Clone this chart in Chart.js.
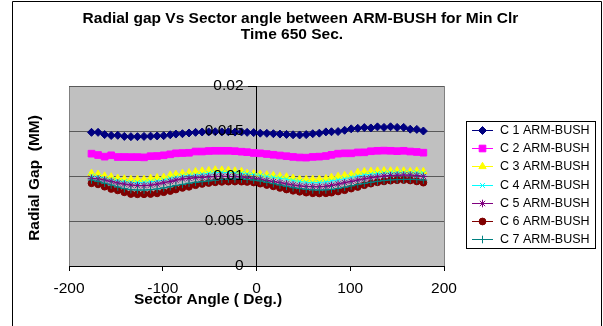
<!DOCTYPE html>
<html>
<head>
<meta charset="utf-8">
<script src="https://cdn.jsdelivr.net/npm/chart.js@4/dist/chart.umd.min.js"></script>
<style>
  html, body { margin: 0; padding: 0; background: #fff; }
  #wrap { width: 603px; height: 326px; position: relative; }
</style>
</head>
<body>
<div id="wrap"><canvas id="chart" width="603" height="326"></canvas></div>
<script>
// Sector angle (deg.) of each measurement point
const angles = [-176, -169, -162, -155, -148, -141, -134, -127, -120, -113, -106, -99, -92,
  -86, -79, -72, -65, -58, -51, -44, -37, -30, -23, -16, -10, -3,
  4, 11, 18, 25, 32, 39, 46, 53, 60, 67, 74,
  80, 87, 94, 101, 108, 115, 122, 129, 136, 143, 150, 157, 164, 171, 178];

// Radial gap (mm) per condition
const c1 = [0.01485, 0.01485, 0.01460, 0.01450, 0.01452, 0.01440, 0.01437, 0.01437, 0.01440, 0.01443, 0.01445, 0.01448, 0.01458,
  0.01466, 0.01470, 0.01478, 0.01485, 0.01489, 0.01490, 0.01492, 0.01490, 0.01492, 0.01488, 0.01490, 0.01485, 0.01482,
  0.01476, 0.01474, 0.01470, 0.01466, 0.01462, 0.01458, 0.01456, 0.01460, 0.01470, 0.01476, 0.01490,
  0.01492, 0.01494, 0.01508, 0.01524, 0.01530, 0.01538, 0.01534, 0.01546, 0.01540, 0.01547, 0.01540, 0.01540, 0.01520, 0.01518, 0.01500];
const c2 = [0.01248, 0.01233, 0.01215, 0.01230, 0.01211, 0.01211, 0.01210, 0.01210, 0.01207, 0.01220, 0.01222, 0.01230, 0.01241,
  0.01252, 0.01255, 0.01258, 0.01272, 0.01272, 0.01278, 0.01280, 0.01280, 0.01280, 0.01276, 0.01270, 0.01265, 0.01256,
  0.01252, 0.01244, 0.01236, 0.01228, 0.01220, 0.01212, 0.01206, 0.01204, 0.01212, 0.01215, 0.01222,
  0.01235, 0.01248, 0.01252, 0.01252, 0.01262, 0.01263, 0.01275, 0.01280, 0.01282, 0.01280, 0.01276, 0.01280, 0.01272, 0.01267, 0.01259];
const c3 = [0.01030, 0.01020, 0.01000, 0.00990, 0.00975, 0.00968, 0.00963, 0.00963, 0.00963, 0.00974, 0.00980, 0.00985, 0.01010,
  0.01018, 0.01030, 0.01037, 0.01048, 0.01055, 0.01060, 0.01067, 0.01065, 0.01062, 0.01055, 0.01050, 0.01030, 0.01025,
  0.01020, 0.01012, 0.01005, 0.00995, 0.00990, 0.00975, 0.00965, 0.00963, 0.00963, 0.00965, 0.00970,
  0.00985, 0.00995, 0.01005, 0.01015, 0.01040, 0.01048, 0.01052, 0.01056, 0.01058, 0.01056, 0.01058, 0.01056, 0.01050, 0.01055, 0.01050];
const c4 = [0.01000, 0.00990, 0.00974, 0.00960, 0.00948, 0.00938, 0.00930, 0.00928, 0.00930, 0.00936, 0.00944, 0.00955, 0.00974,
  0.00985, 0.01000, 0.01006, 0.01011, 0.01020, 0.01030, 0.01038, 0.01040, 0.01038, 0.01035, 0.01030, 0.01022, 0.01015,
  0.01005, 0.00995, 0.00985, 0.00975, 0.00965, 0.00950, 0.00940, 0.00930, 0.00926, 0.00928, 0.00935,
  0.00945, 0.00958, 0.00970, 0.00985, 0.01000, 0.01012, 0.01020, 0.01028, 0.01032, 0.01035, 0.01036, 0.01035, 0.01033, 0.01036, 0.01030];
const c5 = [0.00974, 0.00968, 0.00956, 0.00940, 0.00922, 0.00910, 0.00900, 0.00893, 0.00893, 0.00898, 0.00910, 0.00925, 0.00940,
  0.00955, 0.00968, 0.00975, 0.00980, 0.00985, 0.00990, 0.00995, 0.00996, 0.00995, 0.00993, 0.00990, 0.00984, 0.00975,
  0.00965, 0.00950, 0.00938, 0.00926, 0.00912, 0.00900, 0.00890, 0.00884, 0.00881, 0.00880, 0.00885,
  0.00895, 0.00910, 0.00925, 0.00940, 0.00955, 0.00968, 0.00980, 0.00990, 0.01000, 0.01005, 0.01008, 0.01010, 0.01010, 0.01005, 0.00995];
const c6 = [0.00919, 0.00907, 0.00881, 0.00856, 0.00840, 0.00819, 0.00800, 0.00797, 0.00797, 0.00800, 0.00807, 0.00820, 0.00833,
  0.00850, 0.00868, 0.00880, 0.00898, 0.00912, 0.00922, 0.00930, 0.00935, 0.00937, 0.00938, 0.00937, 0.00934, 0.00928,
  0.00915, 0.00900, 0.00885, 0.00868, 0.00850, 0.00836, 0.00825, 0.00815, 0.00808, 0.00806, 0.00808,
  0.00815, 0.00828, 0.00842, 0.00860, 0.00878, 0.00898, 0.00915, 0.00930, 0.00940, 0.00948, 0.00953, 0.00955, 0.00950, 0.00940, 0.00926];
const c7 = [0.00956, 0.00940, 0.00920, 0.00900, 0.00878, 0.00860, 0.00848, 0.00844, 0.00844, 0.00848, 0.00856, 0.00868, 0.00881,
  0.00895, 0.00907, 0.00920, 0.00930, 0.00937, 0.00945, 0.00955, 0.00962, 0.00966, 0.00967, 0.00966, 0.00962, 0.00955,
  0.00945, 0.00930, 0.00915, 0.00900, 0.00885, 0.00870, 0.00860, 0.00852, 0.00846, 0.00844, 0.00846,
  0.00852, 0.00862, 0.00875, 0.00890, 0.00905, 0.00918, 0.00930, 0.00940, 0.00950, 0.00956, 0.00960, 0.00962, 0.00963, 0.00960, 0.00955];

const seriesNames = ['C 1 ARM-BUSH', 'C 2 ARM-BUSH', 'C 3 ARM-BUSH', 'C 4 ARM-BUSH',
  'C 5 ARM-BUSH', 'C 6 ARM-BUSH', 'C 7 ARM-BUSH'];
const xTickLabels = ['-200', '-100', '0', '100', '200'];
const yTickLabels = ['0', '0.005', '0.01', '0.015', '0.02'];
const titleLines = ['Radial gap Vs Sector angle between ARM-BUSH for Min Clr', 'Time 650 Sec.'];
const xTitle = 'Sector Angle ( Deg.)';
const yTitle = 'Radial Gap  (MM)';

const seriesValues = [c1, c2, c3, c4, c5, c6, c7];

// Marker look for each series
const seriesStyle = [
  { color: '#000080', point: 'rectRot', r: 4 },
  { color: '#FF00FF', point: 'rect', r: 4.7 },
  { color: '#FFFF00', point: 'triangle', r: 4.2 },
  { color: '#00FFFF', point: 'crossRot', r: 3.5 },
  { color: '#800080', point: 'star', r: 3.8 },
  { color: '#800000', point: 'circle', r: 3.4 },
  { color: '#008080', point: 'cross', r: 3.8 }
];

const FONT = '"Liberation Sans", Arial, sans-serif';
const Y_LABEL_GAP = 13; // distance between the value axis line and its tick labels

const datasets = seriesValues.map((vals, i) => ({
  label: seriesNames[i],
  data: angles.map((a, k) => ({ x: a, y: vals[k] })),
  borderColor: seriesStyle[i].color,
  backgroundColor: seriesStyle[i].color,
  borderWidth: 1,
  pointStyle: seriesStyle[i].point,
  pointRadius: seriesStyle[i].r,
  pointBorderWidth: 1,
  pointBorderColor: seriesStyle[i].color,
  pointBackgroundColor: seriesStyle[i].color,
  showLine: true,
  tension: 0,
  order: seriesValues.length - i
}));

// Grey plot area with its border, outer frame; moves the y tick labels off the axis line
const plotBackground = {
  id: 'plotBackground',
  beforeDraw(chart) {
    const { ctx, chartArea: a } = chart;
    const yScale = chart.scales.y;
    const items = yScale.getLabelItems(a);
    if (!yScale._labelsShifted) {
      items.forEach(it => { it.options.translation[0] -= Y_LABEL_GAP; });
      yScale._labelsShifted = true;
    }
    ctx.save();
    ctx.fillStyle = '#fff';
    ctx.fillRect(0, 0, chart.width, chart.height);
    ctx.fillStyle = '#C0C0C0';
    ctx.fillRect(a.left, a.top, a.right - a.left, a.bottom - a.top);
    ctx.strokeStyle = '#808080';
    ctx.lineWidth = 1;
    ctx.strokeRect(Math.round(a.left) + 0.5, Math.round(a.top) + 0.5,
      Math.round(a.right - a.left), Math.round(a.bottom - a.top));
    ctx.strokeStyle = '#000';
    ctx.beginPath();
    ctx.moveTo(12.5, 400); ctx.lineTo(12.5, 1.5); ctx.lineTo(601.5, 1.5); ctx.lineTo(601.5, 400);
    ctx.stroke();
    ctx.restore();
  }
};

// Titles and the boxed legend
const annotations = {
  id: 'annotations',
  afterDraw(chart) {
    const { ctx } = chart;
    ctx.save();
    ctx.fillStyle = '#000';
    ctx.font = 'bold 15.5px ' + FONT;
    ctx.textAlign = 'center';
    ctx.textBaseline = 'alphabetic';
    ctx.fillText(titleLines[0], 300.5, 23);
    ctx.fillText(titleLines[1], 292, 38.5);

    ctx.fillText(xTitle, 208, 304);

    ctx.save();
    ctx.translate(39, 178);
    ctx.rotate(-Math.PI / 2);
    ctx.fillText(yTitle, 0, 0);
    ctx.restore();

    // legend
    const lx = 466.5, ly = 121.5, lw = 129, lh = 127;
    ctx.fillStyle = '#fff';
    ctx.fillRect(lx, ly, lw, lh);
    ctx.strokeStyle = '#000';
    ctx.lineWidth = 1;
    ctx.strokeRect(lx, ly, lw, lh);
    ctx.font = '12.5px ' + FONT;
    ctx.textAlign = 'left';
    ctx.textBaseline = 'middle';
    chart.data.datasets.forEach((ds, i) => {
      const y = 130 + i * 18.2;
      ctx.strokeStyle = ds.borderColor;
      ctx.lineWidth = 1;
      ctx.beginPath();
      ctx.moveTo(472, Math.round(y) + 0.5);
      ctx.lineTo(493, Math.round(y) + 0.5);
      ctx.stroke();
      ctx.fillStyle = ds.pointBackgroundColor;
      ctx.strokeStyle = ds.pointBorderColor;
      Chart.helpers.drawPoint(ctx, {
        pointStyle: ds.pointStyle,
        radius: ds.pointRadius,
        borderWidth: 1,
        rotation: 0
      }, 482.5, Math.round(y) + 0.5);
      ctx.fillStyle = '#000';
      ctx.fillText(ds.label, 500, y + 0.5);
    });
    ctx.restore();
  }
};

new Chart(document.getElementById('chart'), {
  type: 'scatter',
  data: { datasets },
  plugins: [plotBackground, annotations],
  options: {
    responsive: false,
    animation: false,
    events: [],
    layout: { padding: { left: 69, right: 159, top: 86, bottom: 0 } },
    plugins: {
      legend: { display: false },
      title: { display: false },
      tooltip: { enabled: false }
    },
    scales: {
      x: {
        type: 'linear',
        position: 'bottom',
        min: -200, max: 200,
        afterFit(scale) { scale.height = 60; },
        grid: { drawOnChartArea: false, tickLength: 5, tickColor: '#000', lineWidth: 1 },
        border: { color: '#000', width: 1 },
        ticks: {
          stepSize: 100,
          padding: 8,
          color: '#000',
          font: { family: FONT, size: 15.5 },
          maxRotation: 0,
          callback: (v, i) => xTickLabels[i]
        }
      },
      y: {
        type: 'linear',
        position: { x: 0 },
        min: 0, max: 0.02,
        grid: { color: '#5a5a5a', lineWidth: 1, tickLength: 8, tickColor: '#000' },
        border: { color: '#000', width: 1 },
        ticks: {
          stepSize: 0.005,
          padding: 5,
          z: 1,
          color: '#000',
          font: { family: FONT, size: 15.5 },
          callback: (v, i) => yTickLabels[i]
        }
      }
    }
  }
});
</script>
</body>
</html>
